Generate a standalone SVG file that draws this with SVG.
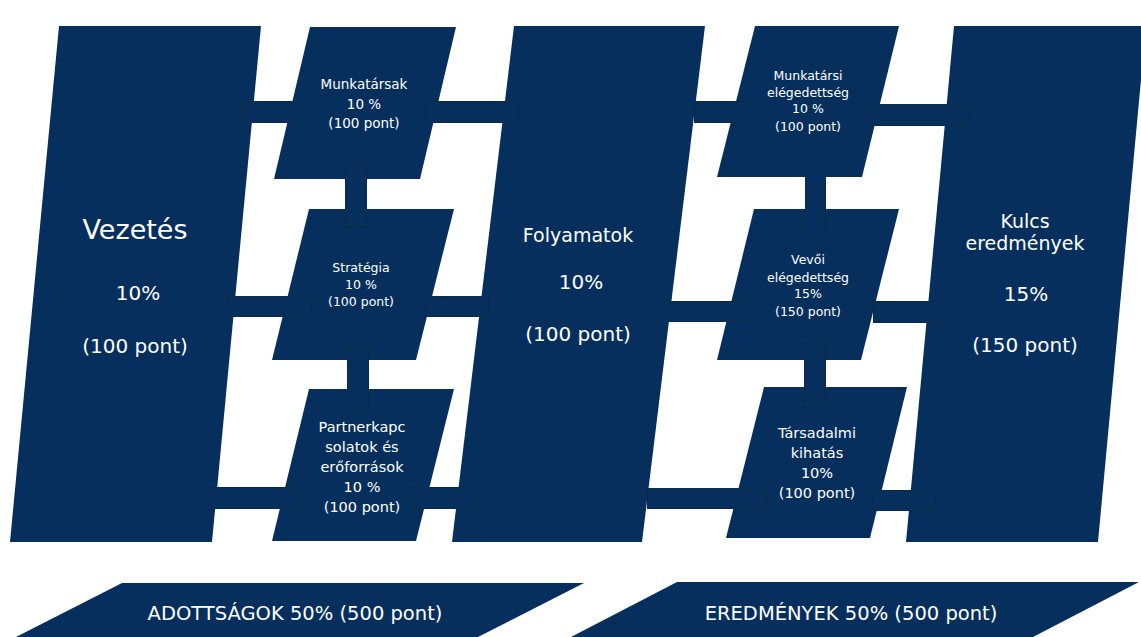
<svg xmlns="http://www.w3.org/2000/svg" width="1141" height="637" viewBox="0 0 1141 637">
  <style>
    .shape { fill: #062f5e; }
    .link { fill: #062f5e; stroke: #0b2b40; stroke-width: 1; }
    text { font-family: "DejaVu Sans", "Liberation Sans", sans-serif; fill: #ffffff; text-anchor: middle; }
    .big { font-size: 20px; }
    .title { font-size: 27px; }
    .mid { font-size: 19px; }
    .s14 { font-size: 13.5px; }
    .s13 { font-size: 12.5px; }
    .s15 { font-size: 14.5px; }
    .band { font-size: 19.5px; }
  </style>

  <rect width="1141" height="637" fill="#ffffff"/>

  <!-- enablers column -->
  <g id="vezetes">
    <polygon class="shape" points="59,26 261,26 212,542 10,542"/>
    <text class="title" x="135" y="239">Vezetés</text>
    <text class="big" x="138" y="300">10%</text>
    <text class="big" x="135" y="353">(100 pont)</text>
  </g>

  <g id="munkatarsak">
    <polygon class="shape" points="310,27 456,27 420,179 274,179"/>
    <text class="s14" x="364" y="89">Munkatársak</text>
    <text class="s14" x="364" y="109">10 %</text>
    <text class="s14" x="364" y="128">(100 pont)</text>
  </g>

  <g id="strategia">
    <polygon class="shape" points="309,209 454,209 416,360 272,360"/>
    <text class="s13" x="361" y="272">Stratégia</text>
    <text class="s13" x="361" y="289">10 %</text>
    <text class="s13" x="361" y="306">(100 pont)</text>
  </g>

  <g id="partnerkapcsolatok">
    <polygon class="shape" points="309,389 454,389 416,541 272,541"/>
    <text class="s15" x="362" y="432">Partnerkapc</text>
    <text class="s15" x="362" y="452">solatok és</text>
    <text class="s15" x="362" y="472">erőforrások</text>
    <text class="s15" x="362" y="492">10 %</text>
    <text class="s15" x="362" y="512">(100 pont)</text>
  </g>

  <g id="folyamatok">
    <polygon class="shape" points="514,26 705,26 642,542 452,542"/>
    <text class="mid" x="578" y="242">Folyamatok</text>
    <text class="big" x="581" y="289">10%</text>
    <text class="big" x="578" y="341">(100 pont)</text>
  </g>

  <!-- results column -->
  <g id="munkatarsi-elegedettseg">
    <polygon class="shape" points="755,26 899,26 862,177 717,177"/>
    <text class="s13" x="808" y="80">Munkatársi</text>
    <text class="s13" x="808" y="97">elégedettség</text>
    <text class="s13" x="808" y="113">10 %</text>
    <text class="s13" x="808" y="131">(100 pont)</text>
  </g>

  <g id="vevoi-elegedettseg">
    <polygon class="shape" points="754,209 899,209 861,360 717,360"/>
    <text class="s13" x="808" y="264">Vevői</text>
    <text class="s13" x="808" y="282">elégedettség</text>
    <text class="s13" x="808" y="298">15%</text>
    <text class="s13" x="808" y="316">(150 pont)</text>
  </g>

  <g id="tarsadalmi-kihatas">
    <polygon class="shape" points="764,387 907,387 870,538 726,538"/>
    <text class="s15" x="817" y="438">Társadalmi</text>
    <text class="s15" x="817" y="458">kihatás</text>
    <text class="s15" x="817" y="478">10%</text>
    <text class="s15" x="817" y="498">(100 pont)</text>
  </g>

  <g id="kulcs-eredmenyek">
    <polygon class="shape" points="954,26 1146,26 1098,542 906,542"/>
    <text class="mid" x="1025" y="228">Kulcs</text>
    <text class="mid" x="1025" y="250">eredmények</text>
    <text class="big" x="1026" y="301">15%</text>
    <text class="big" x="1025" y="352">(150 pont)</text>
  </g>

  <!-- summary bands -->
  <g id="adottsagok">
    <polygon class="shape" points="122,583 584,583 478,637 16,637"/>
    <text class="band" x="295" y="620">ADOTTSÁGOK 50% (500 pont)</text>
  </g>

  <g id="eredmenyek">
    <polygon class="shape" points="677,582 1139,582 1033,637 571,637"/>
    <text class="band" x="851" y="620">EREDMÉNYEK 50% (500 pont)</text>
  </g>

  <!-- connector bars -->
  <g id="connectors">
    <rect class="link" x="245.5" y="101.5" width="64" height="21"/>
    <rect class="link" x="425.5" y="101.5" width="93" height="21"/>
    <rect class="link" x="345.5" y="163.5" width="21" height="64"/>
    <rect class="link" x="227.5" y="296.5" width="84" height="20"/>
    <rect class="link" x="425.5" y="296.5" width="63" height="20"/>
    <rect class="link" x="347.5" y="347.5" width="21" height="63"/>
    <rect class="link" x="211.5" y="487.5" width="90" height="21"/>
    <rect class="link" x="411.5" y="487.5" width="63" height="21"/>

    <rect class="link" x="694.5" y="101.5" width="63" height="21"/>
    <rect class="link" x="869.5" y="104.5" width="100" height="21"/>
    <rect class="link" x="805.5" y="173.5" width="20" height="63"/>
    <rect class="link" x="669.5" y="301.5" width="85" height="20"/>
    <rect class="link" x="873.5" y="301.5" width="73" height="21"/>
    <rect class="link" x="804.5" y="343.5" width="21" height="64"/>
    <rect class="link" x="647.5" y="488.5" width="119" height="20"/>
    <rect class="link" x="872.5" y="490.5" width="63" height="20"/>
  </g>
</svg>
